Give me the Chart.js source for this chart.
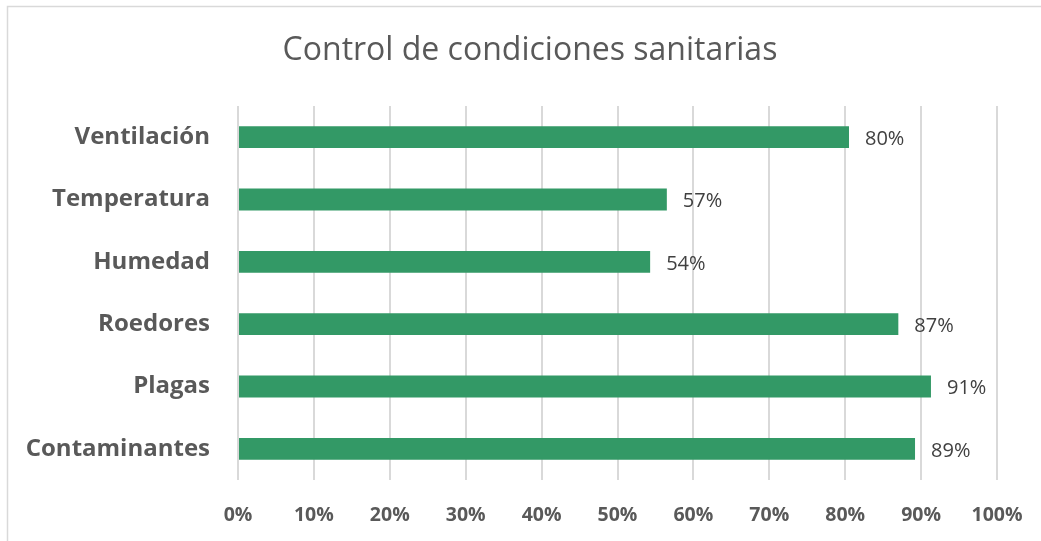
<!DOCTYPE html>
<html>
<head>
<meta charset="utf-8">
<script src="https://cdn.jsdelivr.net/npm/chart.js@4"></script>
<style>
html,body{margin:0;padding:0;background:#fff;}
#wrap{width:1041px;height:541px;position:relative;}
</style>
</head>
<body>
<div id="wrap"><canvas id="c" width="1041" height="541"></canvas></div>
<script>
const categories = ["Ventilación", "Temperatura", "Humedad", "Roedores", "Plagas", "Contaminantes"];
const values = [0.805, 0.565, 0.543, 0.87, 0.913, 0.892];
const valueLabels = ["80%", "57%", "54%", "87%", "91%", "89%"];
const tickValues = [0, 0.1, 0.2, 0.3, 0.4, 0.5, 0.6, 0.7, 0.8, 0.9, 1.0];
const titleText = 'Control de condiciones sanitarias';

const FONT = "'Open Sans', sans-serif";

const borderPlugin = {
  id: 'outerBorder',
  beforeDraw(chart) {
    const ctx = chart.ctx;
    ctx.save();
    ctx.fillStyle = '#fff';
    ctx.fillRect(0, 0, chart.width, chart.height);
    ctx.strokeStyle = '#d9d9d9';
    ctx.lineWidth = 1.5;
    ctx.strokeRect(7.5, 6.5, 1040, 540);
    ctx.font = "32px " + FONT;
    ctx.fillStyle = '#595959';
    ctx.textAlign = 'center';
    ctx.textBaseline = 'middle';
    ctx.fillText(titleText, 530, 51);
    ctx.restore();
  }
};

const labelPlugin = {
  id: 'valueLabels',
  afterDatasetsDraw(chart) {
    const ctx = chart.ctx;
    const meta = chart.getDatasetMeta(0);
    ctx.save();
    ctx.font = "20px " + FONT;
    ctx.fillStyle = '#404040';
    ctx.textAlign = 'left';
    ctx.textBaseline = 'middle';
    meta.data.forEach((bar, i) => {
      ctx.fillText(valueLabels[i], bar.x + 16, bar.y + 2);
    });
    ctx.restore();
  }
};

new Chart(document.getElementById('c'), {
  type: 'bar',
  data: {
    labels: categories,
    datasets: [{
      data: values,
      backgroundColor: '#339966',
      borderWidth: 0,
      barPercentage: 0.35,
      categoryPercentage: 1.0
    }]
  },
  options: {
    indexAxis: 'y',
    responsive: false,
    animation: false,
    layout: { padding: { left: 0, right: 44, top: 106, bottom: 0 } },
    plugins: {
      legend: { display: false },
      tooltip: { enabled: false },
      title: { display: false }
    },
    scales: {
      x: {
        min: 0,
        max: 1,
        afterBuildTicks(scale) { scale.ticks = tickValues.map(v => ({ value: v })); },
        afterFit(scale) { scale.height = 61; scale.paddingRight = 0; scale.paddingLeft = 0; },
        grid: { color: '#d9d9d9', lineWidth: 2, drawTicks: false },
        border: { display: false },
        ticks: {
          padding: 24,
          color: '#595959',
          font: { family: FONT, size: 19.5, weight: 'bold' },
          callback: v => Math.round(v * 100) + '%'
        }
      },
      y: {
        afterFit(scale) { scale.width = 238; scale.paddingTop = 0; scale.paddingBottom = 0; },
        grid: { display: false, drawTicks: false },
        border: { display: false },
        ticks: {
          padding: 28,
          color: '#595959',
          font: { family: FONT, size: 24, weight: 'bold', lineHeight: 1.0 }
        }
      }
    }
  },
  plugins: [borderPlugin, labelPlugin]
});
</script>
</body>
</html>
